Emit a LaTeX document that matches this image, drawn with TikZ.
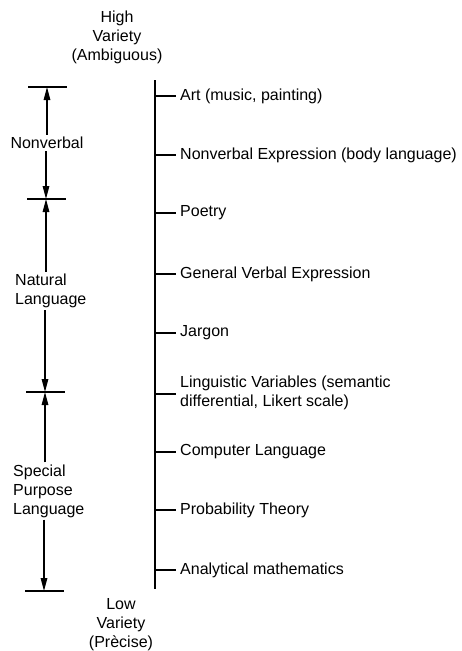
\documentclass[tikz,border=0pt]{standalone}
\usepackage{fontspec}
\setmainfont{Liberation Sans}
\usetikzlibrary{positioning, arrows.meta}

\begin{document}
\begin{tikzpicture}[x=1pt, y=-1pt,
        txt/.style={font=\fontsize{16}{19}\selectfont, inner sep=2pt},
        item/.style={txt, anchor=west, align=left, inner xsep=4pt},
        side/.style={txt, align=left},
        axis/.style={line width=1.8pt},
        arr/.style={line width=1.5pt, -{Triangle[length=13pt, width=6.5pt]}}]
        \useasboundingbox (0,0) rectangle (461,651);
        % ends of the scale
        \node[txt, align=center] (high) at (117,37) {High\\Variety\\(Ambiguous)};
        \node[txt, align=center] (low) at (121,625) {Low\\Variety\\(Prècise)};
        % main axis
        \coordinate (top) at (155,80);
        \coordinate (bot) at (155,589);
        \draw[axis] (top) -- (bot);
        \node[item] (art) at (176,96) {Art (music, painting)};
        \node[item] (body) at (176,155) {Nonverbal Expression (body language)};
        \node[item] (poetry) at (176,213) {Poetry};
        \node[item] (verbal) at (176,274) {General Verbal Expression};
        \node[item] (jargon) at (176,333) {Jargon};
        \node[item] (lingvar) at (176,393) {Linguistic Variables (semantic\\differential, Likert scale)};
        \node[item] (computer) at (176,452) {Computer Language};
        \node[item] (prob) at (176,510) {Probability Theory};
        \node[item] (math) at (176,570) {Analytical mathematics};
        \draw[axis] (art.west -| top) -- (art.west);
        \draw[axis] (body.west -| top) -- (body.west);
        \draw[axis] (poetry.west -| top) -- (poetry.west);
        \draw[axis] (verbal.west -| top) -- (verbal.west);
        \draw[axis] (jargon.west -| top) -- (jargon.west);
        \draw[axis] ([yshift=-1pt]lingvar.west -| top) -- ([yshift=-1pt]lingvar.west);
        \draw[axis] (computer.west -| top) -- (computer.west);
        \draw[axis] (prob.west -| top) -- (prob.west);
        \draw[axis] (math.west -| top) -- (math.west);
        % bars on the left
        \coordinate (b1) at (47,87);
        \coordinate (b2) at (46,199);
        \coordinate (b3) at (45,392);
        \coordinate (b4) at (44,591);
        \draw[axis] ([xshift=-19pt]b1) -- ([xshift=20pt]b1);
        \draw[axis] ([xshift=-19pt]b2) -- ([xshift=20pt]b2);
        \draw[axis] ([xshift=-19pt]b3) -- ([xshift=20pt]b3);
        \draw[axis] ([xshift=-19pt]b4) -- ([xshift=20pt]b4);
        \node[side] (nonverbal) at (47,143) {Nonverbal};
        \node[side, anchor=west] (natural) at (13,291) {Natural\\Language};
        \node[side, anchor=west] (special) at (11,491) {Special\\Purpose\\Language};
        \draw[arr] (nonverbal.north -| b1) -- (b1);
        \draw[arr] (nonverbal.south -| b2) -- (b2);
        \draw[arr] (natural.north -| b2) -- (b2);
        \draw[arr] (natural.south -| b3) -- (b3);
        \draw[arr] (special.north -| b3) -- (b3);
        \draw[arr] (special.south -| b4) -- (b4);
    \end{tikzpicture}
\end{document}
